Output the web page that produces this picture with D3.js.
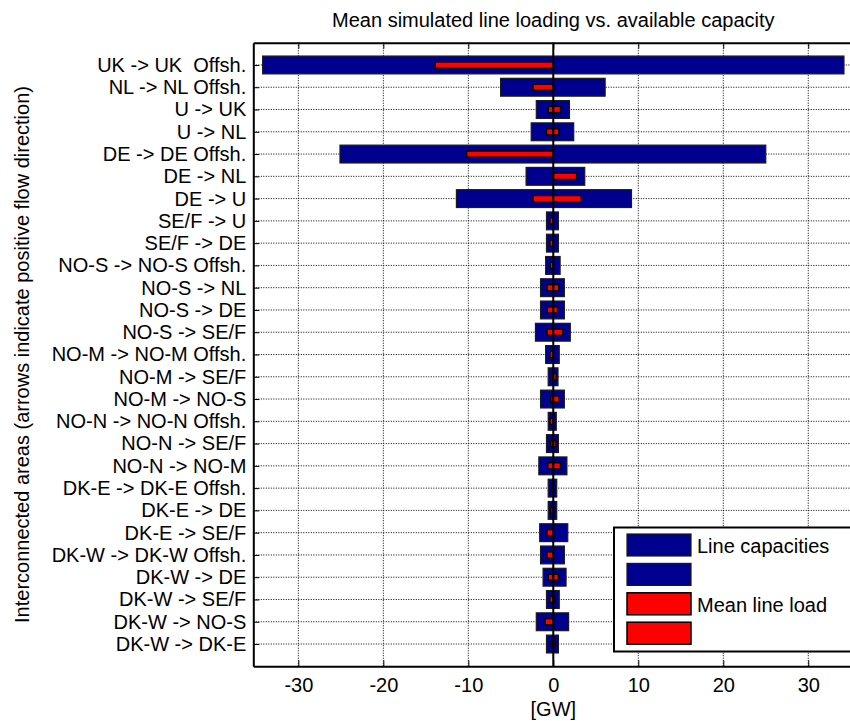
<!doctype html>
<html>
<head>
    <meta charset="utf-8">
    <style>
        body { margin: 0; background: #fff; }
        svg { display: block; font-family: "Liberation Sans", Arial, sans-serif; }
        .grid line { stroke: #000; stroke-width: 1; stroke-dasharray: 1,1.5; }
        .cap { fill: #00008f; stroke: #1a1a1a; stroke-width: 1.2; }
        .load { fill: #ff0000; stroke: #000; stroke-width: 1.5; }
    </style>
    <script src="https://d3js.org/d3.v7.min.js"></script>
</head>
<body>
<svg width="850" height="721"></svg>
<script>
// interconnections, top to bottom
var areas = ["UK -> UK  Offsh.", "NL -> NL Offsh.", "U -> UK", "U -> NL", "DE -> DE Offsh.",
    "DE -> NL", "DE -> U", "SE/F -> U", "SE/F -> DE", "NO-S -> NO-S Offsh.", "NO-S -> NL",
    "NO-S -> DE", "NO-S -> SE/F", "NO-M -> NO-M Offsh.", "NO-M -> SE/F", "NO-M -> NO-S",
    "NO-N -> NO-N Offsh.", "NO-N -> SE/F", "NO-N -> NO-M", "DK-E -> DK-E Offsh.", "DK-E -> DE",
    "DK-E -> SE/F", "DK-W -> DK-W Offsh.", "DK-W -> DE", "DK-W -> SE/F", "DK-W -> NO-S", "DK-W -> DK-E"];

// available capacity [GW], negative and positive direction
var capNeg = [34.2, 6.2, 2.0, 2.6, 25.1, 3.2, 11.4, 0.8, 0.8, 0.9, 1.5, 1.5, 2.1, 0.9, 0.6, 1.5,
    0.6, 0.8, 1.7, 0.6, 0.6, 1.6, 1.5, 1.2, 0.8, 2.0, 0.8];
var capPos = [34.2, 6.1, 1.9, 2.4, 25.0, 3.7, 9.2, 0.6, 0.6, 0.8, 1.3, 1.3, 2.0, 0.7, 0.55, 1.3,
    0.35, 0.6, 1.6, 0.4, 0.4, 1.7, 1.3, 1.5, 0.7, 1.8, 0.6];

// mean simulated load [GW]
var loadNeg = [13.9, 2.4, 0.6, 0.8, 10.2, 0, 2.4, 0.4, 0.4, 0.35, 0.75, 0.7, 0.75, 0.4, 0, 0.3,
    0.4, 0.3, 0.65, 0.2, 0.3, 0.75, 0.75, 0.6, 0.4, 0.95, 0.2];
var loadPos = [0, 0, 0.85, 0.65, 0, 2.75, 3.3, 0, 0, 0, 0.65, 0.5, 1.1, 0, 0.35, 0.7,
    0, 0.3, 0.85, 0, 0, 0, 0, 0.6, 0.15, 0, 0.2];

var xTicks = [-30, -20, -10, 0, 10, 20, 30];
var legendItems = [
    { label: "Line capacities", cls: "cap" },
    { label: "", cls: "cap" },
    { label: "Mean line load", cls: "load" },
    { label: "", cls: "load" }
];

var svg = d3.select("svg"),
    plotL = 253.3, plotR = 853.3, plotT = 42.7, plotB = 666.3;

var xScale = d3.scaleLinear().domain([-35.3, 35.3]).range([plotL, plotR]),
    yScale = d3.scaleLinear().domain([0, areas.length + 1]).range([plotT, plotB]);
var step = yScale(1) - yScale(0);

// grid
var grid = svg.append("g").attr("class", "grid");
grid.selectAll(".vg").data(xTicks).enter().append("line")
    .attr("x1", function(d) { return xScale(d); })
    .attr("x2", function(d) { return xScale(d); })
    .attr("y1", plotT).attr("y2", plotB);
grid.selectAll(".hg").data(d3.range(1, areas.length + 1)).enter().append("line")
    .attr("x1", plotL).attr("x2", plotR)
    .attr("y1", function(d) { return yScale(d); })
    .attr("y2", function(d) { return yScale(d); });

function segments(neg, pos) {
    var out = [];
    areas.forEach(function(a, i) {
        out.push({ row: i + 1, lo: -neg[i], hi: 0 });
        out.push({ row: i + 1, lo: 0, hi: pos[i] });
    });
    return out.filter(function(d) { return d.hi > d.lo; });
}

function drawBars(data, cls, frac) {
    svg.append("g").selectAll("rect")
        .data(data)
        .enter().append("rect")
        .attr("class", cls)
        .attr("x", function(d) { return xScale(d.lo); })
        .attr("width", function(d) { return xScale(d.hi) - xScale(d.lo); })
        .attr("y", function(d) { return yScale(d.row) - frac * step / 2; })
        .attr("height", frac * step);
}

drawBars(segments(capNeg, capPos), "cap", 0.8);
drawBars(segments(loadNeg, loadPos), "load", 0.28);

// zero line
svg.append("line")
    .attr("x1", xScale(0)).attr("x2", xScale(0))
    .attr("y1", plotT).attr("y2", plotB)
    .attr("stroke", "#000").attr("stroke-width", 2);

// axes
var fontFam = '"Liberation Sans", Arial, sans-serif';

var xAxis = svg.append("g")
    .attr("transform", "translate(0," + plotB + ")")
    .call(d3.axisBottom(xScale).tickValues(xTicks).tickSizeInner(-6).tickSizeOuter(0).tickPadding(12)
        .tickFormat(function(d) { return String(d); }))
    .attr("font-size", 20).attr("font-family", fontFam);
xAxis.select(".domain").attr("stroke-width", 2);

var topAxis = svg.append("g")
    .attr("transform", "translate(0," + plotT + ")")
    .call(d3.axisTop(xScale).tickValues(xTicks).tickSizeInner(-6).tickSizeOuter(0).tickFormat(""));
topAxis.select(".domain").attr("stroke-width", 2);

var yAxis = svg.append("g")
    .attr("transform", "translate(" + plotL + ",0)")
    .call(d3.axisLeft(yScale).tickValues(d3.range(1, areas.length + 1))
        .tickSizeInner(-6).tickSizeOuter(0).tickPadding(7)
        .tickFormat(function(d) { return areas[d - 1]; }))
    .attr("font-size", 20).attr("font-family", fontFam);
yAxis.select(".domain").attr("stroke-width", 2);
yAxis.selectAll("text").style("white-space", "pre");

// titles
svg.append("text")
    .attr("x", xScale(0)).attr("y", 27)
    .attr("text-anchor", "middle").attr("font-size", 20)
    .text("Mean simulated line loading vs. available capacity");

svg.append("text")
    .attr("x", xScale(0)).attr("y", 716)
    .attr("text-anchor", "middle").attr("font-size", 20)
    .text("[GW]");

svg.append("text")
    .attr("transform", "translate(29," + (plotT + plotB) / 2 + ") rotate(-90)")
    .attr("text-anchor", "middle").attr("font-size", 20)
    .text("Interconnected areas (arrows indicate positive flow direction)");

// legend
var legend = svg.append("g").attr("transform", "translate(614,527.5)");
legend.append("rect")
    .attr("width", 260).attr("height", 124)
    .attr("fill", "#fff").attr("stroke", "#000").attr("stroke-width", 2);
var item = legend.selectAll(".item").data(legendItems).enter().append("g")
    .attr("transform", function(d, i) { return "translate(13," + (6.5 + i * 29.4) + ")"; });
item.append("rect")
    .attr("class", function(d) { return d.cls; })
    .attr("width", 64).attr("height", 22);
item.append("text")
    .attr("x", 70).attr("y", 19)
    .attr("font-size", 20)
    .text(function(d) { return d.label; });
</script>
</body>
</html>
